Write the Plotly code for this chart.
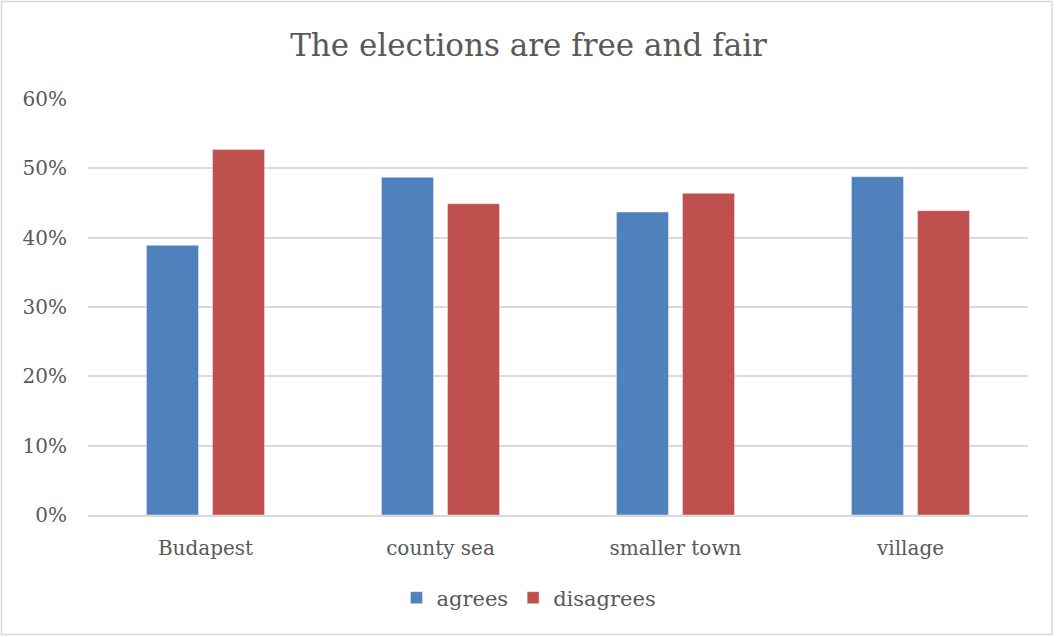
import plotly.graph_objects as go

categories = ["Budapest", "county sea", "smaller town", "village"]
agrees = [38.9, 48.7, 43.7, 48.8]
disagrees = [52.7, 44.9, 46.4, 43.9]
y_ticks = [0, 10, 20, 30, 40, 50, 60]
y_tick_labels = ["0%", "10%", "20%", "30%", "40%", "50%", "60%"]

W, H = 1057, 637
L, R, T, B = 88, 29, 99, 122
pw, ph = W - L - R, H - T - B

def px_x(x):
    return (x - L) / pw

def px_y(y):
    return (H - B - y) / ph

FONT = "DejaVu Serif"
GREY = "#595959"

fig = go.Figure()
fig.add_trace(go.Bar(name="agrees", x=categories, y=agrees, marker_color="#4F81BD"))
fig.add_trace(go.Bar(name="disagrees", x=categories, y=disagrees, marker_color="#C0504D"))

fig.update_layout(
    width=W, height=H,
    margin=dict(l=L, r=R, t=T, b=B),
    paper_bgcolor="white", plot_bgcolor="white",
    barmode="group", bargap=0.438, bargroupgap=0.212,
    font=dict(family=FONT, color=GREY, size=20),
    title=dict(text="The elections are free and fair", x=0.5, xanchor="center",
               y=1 - 45 / H, yanchor="middle",
               font=dict(family=FONT, size=31, color=GREY)),
    legend=dict(orientation="h", x=px_x(529), xanchor="center", y=px_y(598), yanchor="middle",
                font=dict(family=FONT, size=21, color=GREY), itemwidth=30, traceorder="normal"),
    showlegend=True,
)
fig.update_xaxes(showgrid=False, showline=True, linecolor="#D9D9D9", linewidth=1.5,
                 ticks="", ticklabelstandoff=14, tickfont=dict(family=FONT, size=20, color=GREY))
fig.update_yaxes(range=[0, 60], tickmode="array", tickvals=y_ticks, ticktext=y_tick_labels,
                 showgrid=True, gridcolor="#D9D9D9", gridwidth=1.5, zeroline=False, showline=False,
                 ticks="", ticklabelstandoff=20, tickfont=dict(family=FONT, size=20, color=GREY))

fig.add_shape(type="rect", xref="paper", yref="paper",
              x0=px_x(1.5), x1=px_x(1052), y0=px_y(634.5), y1=px_y(1.5),
              line=dict(color="#D9D9D9", width=1.5), fillcolor="rgba(0,0,0,0)", layer="below")

fig.write_html("out.html", config={"displayModeBar": False},
               post_script="document.body.style.margin='0';document.body.style.overflow='hidden';")
